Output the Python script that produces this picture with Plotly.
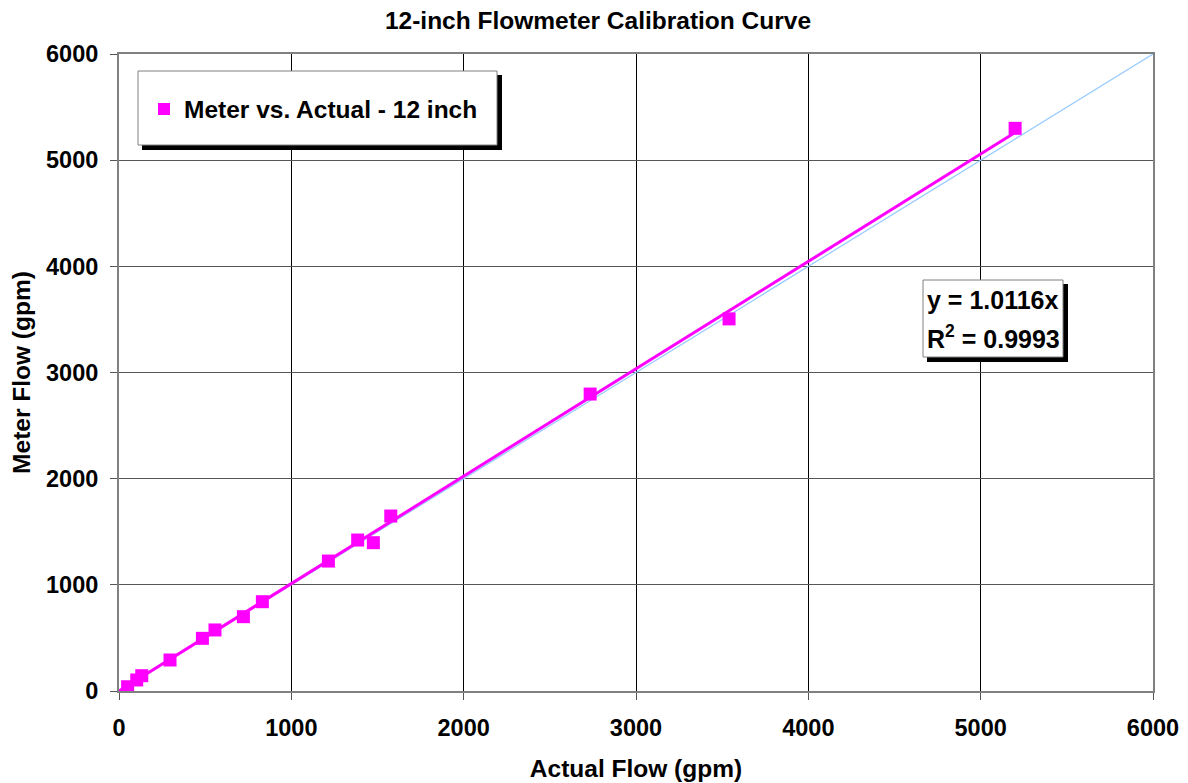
import plotly.graph_objects as go

actual_flow = [50, 103, 132, 296, 484, 557, 722, 832, 1215, 1385, 1476, 1577, 2734, 3540, 5200]
meter_flow = [40, 104, 144, 292, 496, 575, 700, 841, 1224, 1422, 1397, 1648, 2797, 3505, 5300]
slope = 1.0116
r2 = 0.9993
ref_line = [0, 6000]
tick_vals = [0, 1000, 2000, 3000, 4000, 5000, 6000]
tick_text = ["<b>%d</b>" % v for v in tick_vals]

FONT = "Arial, 'Liberation Sans', sans-serif"

fig = go.Figure()

# 1:1 reference line
fig.add_trace(go.Scatter(x=ref_line, y=ref_line, mode="lines",
                         line=dict(color="#99CCFF", width=1.3), showlegend=False, hoverinfo="skip"))
# linear trendline through origin
xmax = max(actual_flow)
fig.add_trace(go.Scatter(x=[0, xmax], y=[0, slope * xmax], mode="lines",
                         line=dict(color="#FF00FF", width=3), showlegend=False, hoverinfo="skip"))
# data
fig.add_trace(go.Scatter(x=actual_flow, y=meter_flow, mode="markers",
                         name="<b>Meter vs. Actual - 12 inch</b>",
                         marker=dict(symbol="square", size=13, color="#FF00FF", line=dict(width=0))))

axis_common = dict(range=[0, 6000], tickvals=tick_vals, ticktext=tick_text, showline=True,
                   linecolor="#808080", linewidth=2, mirror=True, zeroline=False,
                   ticks="outside", ticklen=7, tickcolor="#555555", automargin=False,
                   tickfont=dict(family=FONT, size=23.5, color="black"))

W, H = 1180, 775
OFF = 8  # page body margin

fig.update_layout(
    width=W, height=H, autosize=False,
    margin=dict(l=119 - OFF, r=35, t=54 - OFF, b=92, autoexpand=False),
    paper_bgcolor="white", plot_bgcolor="white",
    title=dict(text="<b>12-inch Flowmeter Calibration Curve</b>", x=0.5, xanchor="center",
               y=1 - (20 - OFF) / H, yanchor="middle", font=dict(family=FONT, size=24.5, color="black")),
    xaxis=dict(**axis_common, showgrid=True, gridcolor="black", gridwidth=1, ticklabelstandoff=8,
               title=dict(text="<b>Actual Flow (gpm)</b>", font=dict(family=FONT, size=24.5, color="black"), standoff=20)),
    yaxis=dict(**axis_common, showgrid=True, gridcolor="#555555", gridwidth=1, ticklabelstandoff=7,
               title=dict(text="<b>Meter Flow (gpm)</b>", font=dict(family=FONT, size=24.5, color="black"), standoff=12)),
    legend=dict(x=(144 - 119) / 1034, y=1 - (109 - 54) / 637, xanchor="left", yanchor="middle",
                bgcolor="rgba(0,0,0,0)", borderwidth=0,
                font=dict(family=FONT, size=24.5, color="black"), itemsizing="constant"),
    showlegend=True,
)

def px2x(p):
    return (p - 119) / 1034

def px2y(p):
    return 1 - (p - 54) / 637

shapes = []
# legend box shadow + box
shapes.append(dict(type="rect", xref="paper", yref="paper", x0=px2x(142), x1=px2x(502), y0=px2y(150), y1=px2y(75),
                   fillcolor="black", line=dict(width=0), layer="above"))
shapes.append(dict(type="rect", xref="paper", yref="paper", x0=px2x(138), x1=px2x(497), y0=px2y(145), y1=px2y(71),
                   fillcolor="white", line=dict(color="#808080", width=1), layer="above"))
# equation box shadow + box
shapes.append(dict(type="rect", xref="paper", yref="paper", x0=px2x(927), x1=px2x(1068), y0=px2y(362), y1=px2y(284),
                   fillcolor="black", line=dict(width=0), layer="above"))
shapes.append(dict(type="rect", xref="paper", yref="paper", x0=px2x(923), x1=px2x(1063), y0=px2y(357), y1=px2y(280),
                   fillcolor="white", line=dict(color="#808080", width=1), layer="above"))
fig.update_layout(shapes=shapes)

fig.add_annotation(xref="paper", yref="paper", x=px2x(925), y=px2y(300), xanchor="left", yanchor="middle",
                   align="left", showarrow=False,
                   text=f"<b>y = {slope:.4f}x</b>",
                   font=dict(family=FONT, size=25, color="black"))
fig.add_annotation(xref="paper", yref="paper", x=px2x(925), y=px2y(337), xanchor="left", yanchor="middle",
                   align="left", showarrow=False,
                   text=f"<b>R<sup>2</sup> = {r2:.4f}</b>",
                   font=dict(family=FONT, size=25, color="black"))

fig.write_html("out.html")
